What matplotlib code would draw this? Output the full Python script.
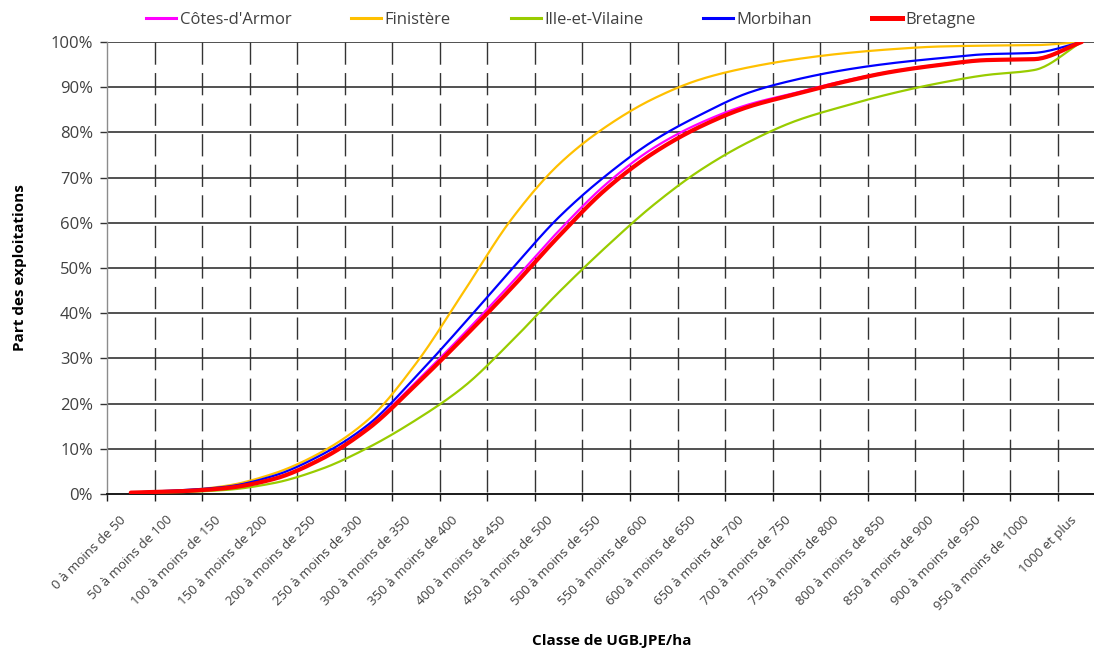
import numpy as np
import matplotlib
matplotlib.use("Agg")
import matplotlib.pyplot as plt
import matplotlib.transforms as mtransforms
from matplotlib.lines import Line2D

plt.rcParams["font.family"] = ["Open Sans", "DejaVu Sans"]

# ---------------------------------------------------------------------------
# data (cumulative share of farms, %)
# ---------------------------------------------------------------------------

classes = [f"{a} à moins de {a + 50}" for a in range(0, 1000, 50)] + ["1000 et plus"]

cotes_armor = [0.3, 0.7, 1.4, 3.4, 7.8, 14.8, 24.8, 35.4, 46.6, 58.2, 68.6, 76.6, 82.2, 86.2, 88.8, 91.4, 93.5, 95.0, 96.0, 96.3, 100]
finistere   = [0.3, 0.7, 1.8, 4.5, 9.2, 16.5, 28.9, 44.7, 60.7, 72.9, 81.3, 87.5, 91.8, 94.4, 96.2, 97.5, 98.4, 99.0, 99.2, 99.3, 100]
ille_vilaine = [0.2, 0.4, 0.9, 2.4, 5.5, 10.3, 16.4, 23.7, 33.7, 44.6, 54.7, 64.0, 71.8, 77.9, 82.6, 85.8, 88.6, 90.9, 92.7, 93.8, 100]
morbihan    = [0.3, 0.8, 1.6, 4.0, 8.6, 15.4, 26.0, 37.6, 49.6, 61.2, 70.5, 78.2, 84.0, 88.8, 91.7, 93.8, 95.3, 96.4, 97.3, 97.6, 100]
bretagne    = [0.3, 0.6, 1.3, 3.3, 7.7, 14.5, 24.2, 34.6, 45.5, 57.0, 67.5, 75.5, 81.4, 85.7, 88.5, 91.2, 93.4, 94.9, 96.0, 96.2, 100]

series = [
    ("Côtes-d'Armor", cotes_armor, "#FF00FF", 1.6),
    ("Finistère", finistere, "#FFC000", 1.6),
    ("Ille-et-Vilaine", ille_vilaine, "#99CC00", 1.6),
    ("Morbihan", morbihan, "#0000FF", 1.6),
    ("Bretagne", bretagne, "#FF0000", 3.0),
]


def smooth(xs, ys, n=24):
    """Monotone cubic (Fritsch-Carlson) curve through every point."""
    xs = np.asarray(xs, float)
    ys = np.asarray(ys, float)
    h = np.diff(xs)
    d = np.diff(ys) / h
    m = np.zeros_like(ys)
    m[0], m[-1] = d[0], d[-1]
    for i in range(1, len(ys) - 1):
        if d[i - 1] * d[i] > 0:
            w1 = 2 * h[i] + h[i - 1]
            w2 = h[i] + 2 * h[i - 1]
            m[i] = (w1 + w2) / (w1 / d[i - 1] + w2 / d[i])
    t = np.linspace(0, 1, n)
    px, py = [], []
    for i in range(len(xs) - 1):
        h00 = 2 * t ** 3 - 3 * t ** 2 + 1
        h10 = t ** 3 - 2 * t ** 2 + t
        h01 = -2 * t ** 3 + 3 * t ** 2
        h11 = t ** 3 - t ** 2
        seg = h00 * ys[i] + h10 * h[i] * m[i] + h01 * ys[i + 1] + h11 * h[i] * m[i + 1]
        sl = slice(0, None) if i == 0 else slice(1, None)
        px.append((xs[i] + t * h[i])[sl])
        py.append(seg[sl])
    return np.concatenate(px), np.concatenate(py)


# ---------------------------------------------------------------------------
# figure
# ---------------------------------------------------------------------------

W, H = 1094, 651
fig = plt.figure(figsize=(W / 100, H / 100), dpi=100)
ax = fig.add_axes([107 / W, 157 / H, 998.5 / W, 452 / H])

x = np.arange(len(classes))
ax.set_xlim(-0.5, len(classes) - 0.5)
ax.set_ylim(0, 100)

# grid
for yv in range(10, 101, 10):
    ax.axhline(yv, color="#333333", linewidth=1.2, zorder=1)
for k in range(1, len(classes)):
    ax.plot([k - 0.5, k - 0.5], [100, 0], color="#333333", linewidth=1.0,
             dashes=(16, 6), zorder=1)

for name, vals, color, lw in series:
    sx, sy = smooth(x, vals)
    ax.plot(sx, sy, color=color, linewidth=lw, solid_capstyle="round", zorder=3)

# axes styling
for side in ["top", "right"]:
    ax.spines[side].set_visible(False)
ax.spines["left"].set_color("#8c8c8c")
ax.spines["left"].set_linewidth(1.0)
ax.spines["bottom"].set_color("#1a1a1a")
ax.spines["bottom"].set_linewidth(1.4)

ax.set_yticks(range(0, 101, 10))
ax.set_yticklabels([f"{v}%" for v in range(0, 101, 10)], fontsize=12, color="#404040")
ax.tick_params(axis="y", length=5, width=1.0, color="#333333", pad=5)

ax.set_xticks(np.arange(len(classes)) - 0.5, minor=False)
ax.set_xticklabels([])
ax.tick_params(axis="x", length=5, width=1.0, color="#1a1a1a")
ax.set_xticks(x, minor=True)
ax.set_xticklabels(classes, minor=True, rotation=45, ha="right", va="top",
                   rotation_mode="anchor", fontsize=9.5, color="#404040")
ax.tick_params(axis="x", which="minor", length=0, pad=14)
shift = mtransforms.ScaledTranslation(-12 / 100, 0, fig.dpi_scale_trans)
for lbl in ax.get_xticklabels(minor=True):
    lbl.set_transform(lbl.get_transform() + shift)

ax.set_ylabel("Part des exploitations", fontsize=11, fontweight="bold", labelpad=17)
fig.text(612 / W, 1 - 641 / H, "Classe de UGB.JPE/ha", fontsize=11,
         fontweight="bold", ha="center", va="center")

handles = [Line2D([], [], color=c, linewidth=lw + 0.6) for _, _, c, lw in series]
fig.legend(handles, [s[0] for s in series], loc="center", ncol=5,
           bbox_to_anchor=(561 / W, 1 - 20 / H), frameon=False, fontsize=12,
           handlelength=1.8, handletextpad=0.2, columnspacing=3.6,
           labelcolor="#404040")

fig.savefig("out.png", dpi=100)
